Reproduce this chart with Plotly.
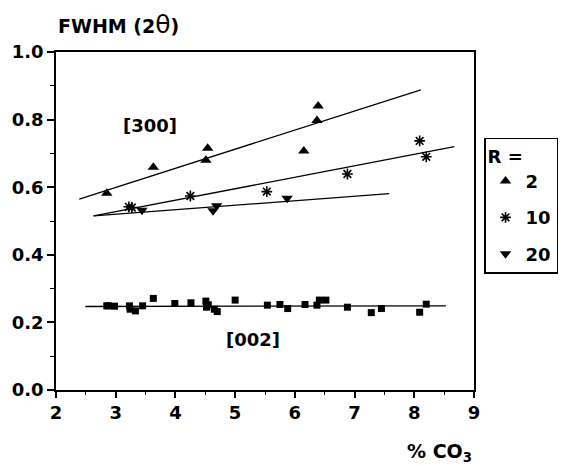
import plotly.graph_objects as go

# ---- data ----
r2_x = [2.85, 3.63, 4.51, 4.54, 6.15, 6.37, 6.39]
r2_y = [0.582, 0.659, 0.680, 0.715, 0.707, 0.797, 0.840]

r10_x = [3.22, 3.27, 4.25, 5.53, 6.88, 8.09, 8.20]
r10_y = [0.542, 0.540, 0.574, 0.587, 0.639, 0.737, 0.690]

r20_x = [3.44, 4.63, 4.69, 5.87]
r20_y = [0.532, 0.530, 0.545, 0.567]

sq_x = [2.85, 2.88, 2.98, 3.23, 3.24, 3.33, 3.45, 3.63, 3.99, 4.26, 4.51, 4.52, 4.55,
        4.65, 4.70, 5.00, 5.54, 5.75, 5.88, 6.17, 6.37, 6.41, 6.52, 6.88, 7.28, 7.45,
        8.09, 8.20]
sq_y = [0.249, 0.249, 0.248, 0.249, 0.239, 0.234, 0.249, 0.271, 0.256, 0.258, 0.263,
        0.245, 0.252, 0.239, 0.232, 0.266, 0.251, 0.253, 0.241, 0.253, 0.251, 0.266,
        0.266, 0.245, 0.229, 0.241, 0.230, 0.254]

# fitted lines (endpoints)
fit_r2_x = [2.39, 8.11]
fit_r2_y = [0.565, 0.888]
fit_r10_x = [2.63, 8.67]
fit_r10_y = [0.515, 0.720]
fit_r20_x = [2.63, 7.58]
fit_r20_y = [0.515, 0.581]
fit_002_x = [2.49, 8.53]
fit_002_y = [0.247, 0.249]

legend_names = ["2", "10", "20"]
x_ticks = [2, 3, 4, 5, 6, 7, 8, 9]
y_ticks = [0.0, 0.2, 0.4, 0.6, 0.8, 1.0]

FONT = "DejaVu Sans"
BLACK = "black"

fig = go.Figure()

for fx, fy in [(fit_r2_x, fit_r2_y), (fit_r10_x, fit_r10_y),
               (fit_r20_x, fit_r20_y), (fit_002_x, fit_002_y)]:
    fig.add_trace(go.Scatter(x=fx, y=fy, mode="lines",
                             line=dict(color=BLACK, width=1.3),
                             showlegend=False, hoverinfo="skip"))

fig.add_trace(go.Scatter(x=sq_x, y=sq_y, mode="markers",
                         marker=dict(symbol="square", size=7, color=BLACK),
                         showlegend=False))

fig.add_trace(go.Scatter(x=r2_x, y=r2_y, mode="markers", name=legend_names[0],
                         legendgroup="a",
                         marker=dict(symbol="triangle-up", size=10, color=BLACK)))
fig.add_trace(go.Scatter(x=r10_x, y=r10_y, mode="markers", name=legend_names[1],
                         legendgroup="b",
                         marker=dict(symbol="asterisk-open", size=9, color=BLACK,
                                     line=dict(color=BLACK, width=1.6))))
fig.add_trace(go.Scatter(x=r20_x, y=r20_y, mode="markers", name=legend_names[2],
                         legendgroup="c",
                         marker=dict(symbol="triangle-down", size=10, color=BLACK)))

axis_common = dict(showline=True, linecolor=BLACK, linewidth=1.5, mirror=True,
                   ticks="outside", tickcolor=BLACK, tickwidth=1.5,
                   showgrid=False, zeroline=False, automargin=False,
                   tickfont=dict(family=FONT, size=18, color=BLACK, weight="bold"))

fig.update_xaxes(range=[2, 9], tickvals=x_ticks, ticklen=6,
                 minor=dict(dtick=0.5, ticks="outside", ticklen=3, tickcolor=BLACK, tickwidth=1.2),
                 **axis_common)
fig.update_yaxes(range=[0, 1], tickvals=y_ticks, ticktext=[f"{v:.1f}" for v in y_ticks],
                 ticklen=7, minor=dict(dtick=0.1, ticks="outside", ticklen=4, tickcolor=BLACK, tickwidth=1.2),
                 **axis_common)

fig.add_annotation(x=3.58, y=0.784, text="<b>[300]</b>", showarrow=False,
                   font=dict(family=FONT, size=18, color=BLACK))
fig.add_annotation(x=5.30, y=0.148, text="<b>[002]</b>", showarrow=False,
                   font=dict(family=FONT, size=18, color=BLACK))
fig.add_annotation(xref="paper", yref="paper", x=0.0, y=1.0, xanchor="left", yanchor="bottom",
                   yshift=11,
                   text="<b>FWHM (2</b><span style='font-size:25px'>θ</span><b>)</b>",
                   showarrow=False, font=dict(family=FONT, size=19, color=BLACK))
fig.add_annotation(xref="paper", yref="paper", x=1.0, y=0.0, xanchor="right", yanchor="top",
                   yshift=-48,
                   text="<b>% CO<sub>3</sub></b>",
                   showarrow=False, font=dict(family=FONT, size=19, color=BLACK))

# the page body adds an 8px offset, so margins are compensated accordingly
fig.update_layout(
    width=566, height=466,
    margin=dict(l=48, r=100, t=44, b=84, autoexpand=False),
    plot_bgcolor="white", paper_bgcolor="white",
    legend=dict(x=1.024, y=0.746, xanchor="left", yanchor="top",
                bordercolor=BLACK, borderwidth=1.5, bgcolor="white",
                traceorder="grouped", tracegroupgap=10,
                title=dict(text="<b>R =</b>", font=dict(family=FONT, size=18, color=BLACK)),
                font=dict(family=FONT, size=18, color=BLACK, weight="bold"),
                itemwidth=30),
    showlegend=True,
)

fig.write_html("out.html")
